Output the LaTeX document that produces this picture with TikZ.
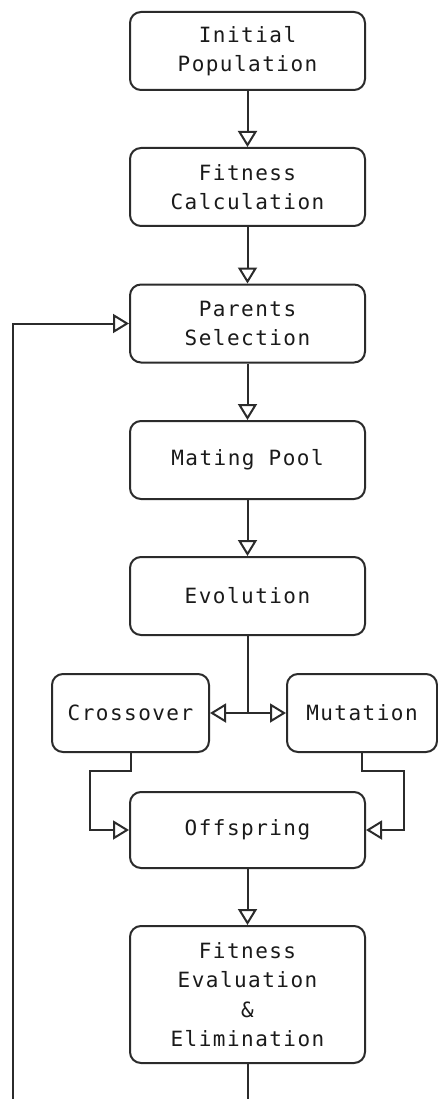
\documentclass[tikz,border=0pt]{standalone}
\usepackage{fontspec}
\usetikzlibrary{arrows.meta}
\newfontfamily\diagmono[LetterSpace=7]{DejaVu Sans Mono}
\definecolor{linegray}{HTML}{2B2B2B}
\definecolor{textgray}{HTML}{1A1A1A}
\begin{document}
\begin{tikzpicture}[x=1pt,y=1pt,
  box/.style={draw=linegray, line width=2pt, rounded corners=11pt, fill=white,
    minimum width=235pt, minimum height=78pt, align=center, inner sep=0pt,
    font=\diagmono\fontsize{21}{29.5}\selectfont, text=textgray},
  conn/.style={draw=linegray, line width=2pt},
  arr/.style={conn, -{Triangle[open, length=16pt, width=19pt, line width=2pt]}}
]
\useasboundingbox (0,0) rectangle (438,-1099);
\node[box] (init) at (247.5,-51) {Initial\\Population};
\node[box] (fitc) at (247.5,-187) {Fitness\\Calculation};
\node[box] (par) at (247.5,-323.5) {Parents\\Selection};
\node[box] (mat) at (247.5,-460) {Mating Pool};
\node[box] (evo) at (247.5,-596) {Evolution};
\node[box, minimum width=157pt] (cro) at (130.5,-713) {Crossover};
\node[box, minimum width=150pt] (mut) at (362,-713) {Mutation};
\node[box, minimum height=76pt] (off) at (247.5,-830) {Offspring};
\node[box, minimum height=137pt] (fit) at (247.5,-994.5) {Fitness\\Evaluation\\\&\\Elimination};
\coordinate (split) at (247.5,-713);
\coordinate (cbend) at (130.5,-771);
\coordinate (cleft) at (90,-771);
\coordinate (cdown) at (90,-830);
\coordinate (mbend) at (362,-771);
\coordinate (mright) at (404,-771);
\coordinate (mdown) at (404,-830);
\coordinate (bottom) at (247.5,-1099);
\coordinate (loopbot) at (13,-1099);
\coordinate (looptop) at (13,-323.5);
\draw[arr] (init) -- (fitc);
\draw[arr] (fitc) -- (par);
\draw[arr] (par) -- (mat);
\draw[arr] (mat) -- (evo);
\draw[conn] (evo.south) -- (split);
\draw[arr] (split) -- (cro.east);
\draw[arr] (split) -- (mut.west);
\draw[arr] (cro.south) -- (cbend) -- (cleft) -- (cdown) -- (off.west);
\draw[arr] (mut.south) -- (mbend) -- (mright) -- (mdown) -- (off.east);
\draw[arr] (off) -- (fit);
\draw[conn] (fit.south) -- (bottom);
\draw[arr] (loopbot) -- (looptop) -- (par.west);
\end{tikzpicture}
\end{document}
